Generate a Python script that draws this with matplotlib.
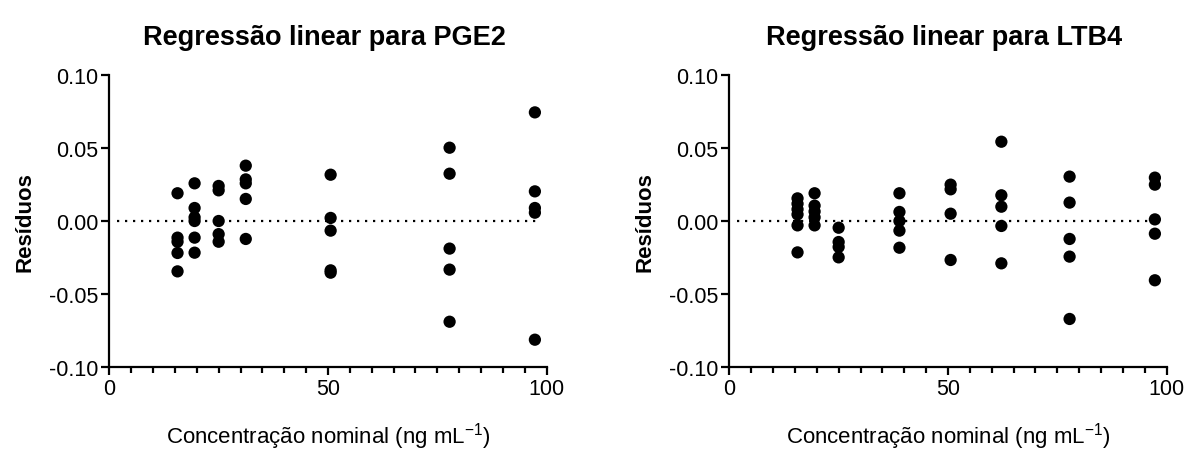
import matplotlib
matplotlib.use("Agg")
import matplotlib.pyplot as plt
from matplotlib.ticker import MultipleLocator

plt.rcParams['font.family'] = ['Liberation Sans', 'DejaVu Sans']

# ---- data: PGE2 residuals ----
pge2_x = [15.6] * 5 + [19.5] * 6 + [25.0] * 5 + [31.2] * 5 + [50.6] * 5 + [77.8] * 5 + [97.3] * 5
pge2_y = [0.0190, -0.0114, -0.0142, -0.0219, -0.0345,
          0.0258, 0.0089, 0.0025, 0.0000, -0.0114, -0.0217,
          0.0240, 0.0210, 0.0000, -0.0090, -0.0142,
          0.0379, 0.0285, 0.0258, 0.0151, -0.0123,
          0.0317, 0.0021, -0.0066, -0.0338, -0.0354,
          0.0502, 0.0324, -0.0189, -0.0333, -0.0690,
          0.0744, 0.0203, 0.0089, 0.0057, -0.0813]

# ---- data: LTB4 residuals ----
ltb4_x = [15.6] * 6 + [19.5] * 5 + [25.0] * 4 + [38.9] * 5 + [50.6] * 4 + [62.2] * 5 + [77.8] * 5 + [97.3] * 5
ltb4_y = [0.0155, 0.0118, 0.0080, 0.0045, -0.0030, -0.0215,
          0.0190, 0.0105, 0.0065, 0.0025, -0.0030,
          -0.0046, -0.0144, -0.0178, -0.0249,
          0.0190, 0.0062, 0.0000, -0.0066, -0.0183,
          0.0249, 0.0217, 0.0050, -0.0267,
          0.0543, 0.0176, 0.0098, -0.0034, -0.0290,
          0.0304, 0.0126, -0.0123, -0.0244, -0.0671,
          0.0297, 0.0249, 0.0011, -0.0087, -0.0406]

titles = ["Regressão linear para PGE2", "Regressão linear para LTB4"]
ylabel = "Resíduos"
xlabel = "Concentração nominal (ng mL$^{\\mathregular{-1}}$)"
xticks = [0, 50, 100]
yticks = [-0.10, -0.05, 0.00, 0.05, 0.10]
ytick_labels = ["-0.10", "-0.05", "0.00", "0.05", "0.10"]

W, H = 1185, 452
fig = plt.figure(figsize=(W / 100, H / 100), dpi=100)

ax_left_px = [109.3, 729.3]
ax_w_px = 437.4
ax_bottom_px = 452 - 368
ax_h_px = 292

datasets = [(pge2_x, pge2_y), (ltb4_x, ltb4_y)]
for i, (xs, ys) in enumerate(datasets):
    ax = fig.add_axes([ax_left_px[i] / W, ax_bottom_px / H, ax_w_px / W, ax_h_px / H])
    ax.set_xlim(0, 100)
    ax.set_ylim(-0.10, 0.10)
    ax.plot([1.7, 98.3], [0, 0], linestyle=(0, (1, 2.6)), color='black', linewidth=1.6, zorder=1)
    ax.scatter(xs, ys, s=78, color='black', edgecolors='none', zorder=3, clip_on=False)
    for side in ['top', 'right']:
        ax.spines[side].set_visible(False)
    for side in ['left', 'bottom']:
        ax.spines[side].set_linewidth(1.6)
    ax.set_xticks(xticks)
    ax.xaxis.set_minor_locator(MultipleLocator(5))
    ax.set_yticks(yticks)
    ax.set_yticklabels(ytick_labels)
    ax.tick_params(axis='both', which='major', direction='out', length=6, width=1.6,
                   labelsize=15.5, pad=2)
    ax.tick_params(axis='x', which='minor', direction='out', length=4, width=1.6)
    ax.set_ylabel(ylabel, fontsize=16, fontweight='bold')
    ax.set_xlabel(xlabel, fontsize=16)
    ax.xaxis.set_label_coords(0.5, (368 - 437) / ax_h_px)
    ax.xaxis.label.set_va('center')
    ax.yaxis.set_label_coords((25 - 109.3) / ax_w_px, 0.5)
    ax.yaxis.label.set_va('center')
    cx = (ax_left_px[i] + ax_w_px / 2 - 4) / W
    fig.text(cx, 1 - 38 / H, titles[i], fontsize=19.5, fontweight='bold',
             ha='center', va='center')

fig.savefig("out.png", dpi=100)
